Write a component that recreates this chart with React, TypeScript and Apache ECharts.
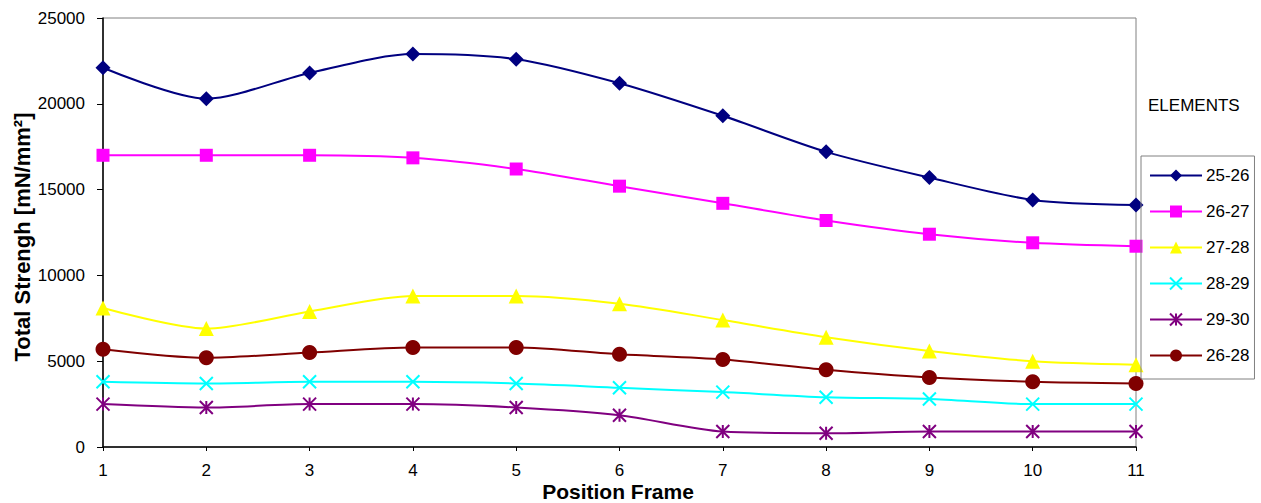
import React, { useEffect, useRef } from "react";
import * as echarts from "echarts";

const categories = ["1", "2", "3", "4", "5", "6", "7", "8", "9", "10", "11"];
const seriesNames = ["25-26", "26-27", "27-28", "28-29", "29-30", "26-28"];
const s2526 = [22100, 20300, 21800, 22900, 22600, 21200, 19300, 17200, 15700, 14400, 14100];
const s2627 = [17000, 17000, 17000, 16850, 16200, 15200, 14200, 13200, 12400, 11900, 11700];
const s2728 = [8100, 6900, 7900, 8800, 8800, 8350, 7400, 6400, 5600, 5000, 4800];
const s2829 = [3800, 3700, 3800, 3800, 3700, 3450, 3200, 2900, 2800, 2500, 2500];
const s2930 = [2500, 2300, 2500, 2500, 2300, 1850, 900, 800, 900, 900, 900];
const s2628 = [5700, 5200, 5500, 5800, 5800, 5400, 5100, 4500, 4050, 3800, 3700];
const yTicks = { min: 0, max: 25000, interval: 5000 };
const xTitle = "Position Frame";
const yTitle = "Total Strengh [mN/mm²]";
const legendTitle = "ELEMENTS";

const colors = ["#000080", "#FF00FF", "#FFFF00", "#00FFFF", "#800080", "#800000"];
const symbols = [
  "diamond",
  "rect",
  "triangle",
  "path://M0,0L10,10M10,0L0,10",
  "path://M0,0L10,10M10,0L0,10M5,0L5,10",
  "circle",
];
const symbolSizes = [15, 13, 15, 13, 13, 15];
const values = [s2526, s2627, s2728, s2829, s2930, s2628];

const FONT = "Liberation Sans, Arial, sans-serif";

export default function App() {
  const ref = useRef<HTMLDivElement>(null);
  useEffect(() => {
    if (!ref.current) return;
    const chart = echarts.init(ref.current, null, { renderer: "svg" });
    const series = seriesNames.map((name, i) => {
      const stroked = i === 3 || i === 4;
      return {
        name,
        type: "line",
        data: values[i],
        smooth: 0.28,
        symbol: symbols[i],
        symbolSize: symbolSizes[i],
        showAllSymbol: true,
        lineStyle: { color: colors[i], width: 2 },
        itemStyle: stroked
          ? { color: colors[i], borderColor: colors[i], borderWidth: 2 }
          : { color: colors[i], borderWidth: 0 },
        z: 3,
      };
    });
    chart.setOption({
      animation: false,
      backgroundColor: "#ffffff",
      textStyle: { fontFamily: FONT },
      grid: {
        left: 103,
        right: 125,
        top: 18,
        bottom: 56,
        show: true,
        borderColor: "#808080",
        borderWidth: 1,
        backgroundColor: "transparent",
        containLabel: false,
        outerBoundsMode: "none",
      },
      legend: {
        orient: "vertical",
        left: 1141,
        top: 156,
        padding: [11, 5, 15, 8],
        itemGap: 19,
        itemWidth: 52,
        itemHeight: 15,
        borderColor: "#808080",
        borderWidth: 1,
        textStyle: { fontSize: 17, color: "#000", fontFamily: FONT, padding: [0, 0, 0, -1] },
        data: seriesNames,
      },
      graphic: [
        {
          type: "text",
          left: 1148,
          top: 97,
          style: { text: legendTitle, fontSize: 17, fill: "#000", fontFamily: FONT },
        },
        {
          type: "text",
          x: 618,
          y: 491,
          style: {
            text: xTitle,
            fontSize: 21,
            fontWeight: "bold",
            fill: "#000",
            fontFamily: FONT,
            align: "center",
            verticalAlign: "middle",
          },
        },
        {
          type: "text",
          x: 22,
          y: 237,
          rotation: Math.PI / 2,
          style: {
            text: yTitle,
            fontSize: 22,
            fontWeight: "bold",
            fill: "#000",
            fontFamily: FONT,
            align: "center",
            verticalAlign: "middle",
          },
        },
      ],
      xAxis: {
        type: "category",
        data: categories,
        boundaryGap: false,
        axisLine: { lineStyle: { color: "#000", width: 1.5 } },
        axisTick: { show: true, length: 4, lineStyle: { color: "#000" } },
        axisLabel: { fontSize: 17, color: "#000", margin: 15, fontFamily: FONT },
        splitLine: { show: false },
      },
      yAxis: {
        type: "value",
        min: yTicks.min,
        max: yTicks.max,
        interval: yTicks.interval,
        axisLine: { show: true, lineStyle: { color: "#000", width: 1.5 } },
        axisTick: { show: true, length: 6, lineStyle: { color: "#000" } },
        axisLabel: {
          fontSize: 17,
          color: "#000",
          margin: 18,
          fontFamily: FONT,
          formatter: (v: number) => String(v),
        },
        splitLine: { show: false },
      },
      series,
    });
    return () => chart.dispose();
  }, []);
  return (
    <div
      ref={ref}
      style={{ position: "absolute", left: 0, top: 0, width: 1261, height: 503, background: "#fff" }}
    />
  );
}
